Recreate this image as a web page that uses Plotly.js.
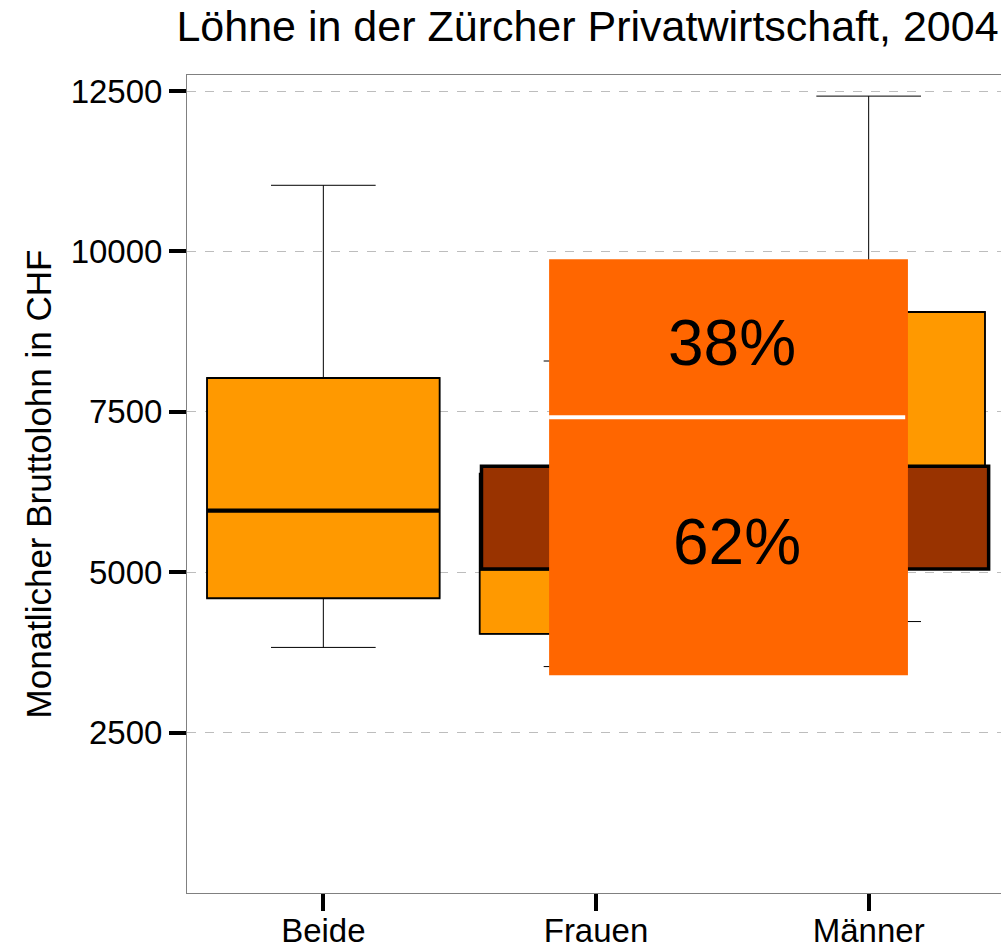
<!DOCTYPE html>
<html>
<head>
<meta charset="utf-8">
<script src="https://cdn.plot.ly/plotly-3.0.1.min.js"></script>
<style>
  html, body { margin: 0; padding: 0; overflow: hidden; background: #ffffff; }
  #chart { width: 1005px; height: 950px; }
</style>
</head>
<body>
<div id="chart"></div>
<script>
// ---- data ----
const categories   = ['Beide', 'Frauen', 'Männer'];
const q1           = [4594, 4039, 5300];
const medians      = [5959, 5062, 6500];
const q3           = [8027, 6535, 9056];
const lowerWhisker = [3828, 3529, 4231];
const upperWhisker = [11031, 8292, 12421];
const yTickVals    = [2500, 5000, 7500, 10000, 12500];

// highlighted brown band (category-index units, CHF)
const highlightX = [0.58, 2.44];
const highlightY = [5050, 6650];

// overlay panel with shares (category-index units, CHF)
const overlayX = [0.828, 2.144];
const overlayY = [3393, 9878];
const shareLabels = ['62%', '38%'];   // lower part, upper part
const shares      = [62, 38];

// ---- styling ----
const FONT = 'Liberation Sans, Arial, Helvetica, sans-serif';
const BOX_W = 0.853;

const whiskerTrace = {
  type: 'box',
  x: categories, q1: q1, median: medians, q3: q3,
  lowerfence: lowerWhisker, upperfence: upperWhisker,
  width: BOX_W, whiskerwidth: 0.45,
  fillcolor: '#FF9900',
  line: { color: '#000000', width: 1 },
  boxpoints: false, hoverinfo: 'skip', showlegend: false
};
const boxTrace = {
  type: 'box',
  x: categories, q1: q1, median: medians, q3: q3,
  lowerfence: q1, upperfence: q3,
  width: BOX_W, whiskerwidth: 0,
  fillcolor: '#FF9900',
  line: { color: '#000000', width: 1.8 },
  boxpoints: false, hoverinfo: 'skip', showlegend: false
};

const shapes = [];
// thick median lines
medians.forEach((m, i) => {
  shapes.push({
    type: 'line', xref: 'x', yref: 'y', layer: 'above',
    x0: i - BOX_W / 2, x1: i + BOX_W / 2, y0: m, y1: m,
    line: { color: '#000000', width: 4.3 }
  });
});
// brown highlight band
shapes.push({
  type: 'rect', xref: 'x', yref: 'y', layer: 'above',
  x0: highlightX[0], x1: highlightX[1], y0: highlightY[0], y1: highlightY[1],
  fillcolor: '#993300', line: { color: '#000000', width: 3.5 }
});
// overlay panel
shapes.push({
  type: 'rect', xref: 'x', yref: 'y', layer: 'above',
  x0: overlayX[0], x1: overlayX[1], y0: overlayY[0], y1: overlayY[1],
  fillcolor: '#FF6600', line: { width: 0 }
});
const total = overlayY[1] - overlayY[0];
const split = overlayY[0] + total * shares[0] / 100;
shapes.push({
  type: 'line', xref: 'x', yref: 'y', layer: 'above',
  x0: overlayX[0], x1: overlayX[1] - 0.01, y0: split, y1: split,
  line: { color: '#ffffff', width: 4 }
});

const xMid = (overlayX[0] + overlayX[1]) / 2;
const annotations = [
  { x: xMid, y: (overlayY[0] + split) / 2, xref: 'x', yref: 'y', text: shareLabels[0],
    xshift: 8, yshift: 4,
    showarrow: false, font: { family: FONT, size: 64, color: '#000000' } },
  { x: xMid, y: (split + overlayY[1]) / 2, xref: 'x', yref: 'y', text: shareLabels[1],
    xshift: 3, yshift: -5,
    showarrow: false, font: { family: FONT, size: 64, color: '#000000' } }
];

const layout = {
  width: 1005, height: 950,
  margin: { l: 187, r: 0, t: 75, b: 57, pad: 0 },
  paper_bgcolor: '#ffffff', plot_bgcolor: '#ffffff',
  font: { family: FONT, color: '#000000' },
  boxmode: 'overlay',
  showlegend: false,
  title: {
    text: 'Löhne in der Zürcher Privatwirtschaft, 2004',
    font: { family: FONT, size: 43, color: '#000000' },
    xref: 'container', x: 0.5846, xanchor: 'center',
    yref: 'container', y: 0.9725, yanchor: 'middle'
  },
  xaxis: {
    type: 'category', categoryarray: categories,
    range: [-0.5, 2.5],
    showgrid: false, zeroline: false,
    showline: true, mirror: true, linecolor: '#808080', linewidth: 1,
    ticks: 'outside', ticklen: 17, tickwidth: 4, tickcolor: '#000000',
    ticklabelstandoff: -9,
    tickfont: { family: FONT, size: 33, color: '#000000' },
    fixedrange: true
  },
  yaxis: {
    range: [0, 12750],
    tickvals: yTickVals, ticktext: yTickVals.map(String),
    showgrid: true, gridcolor: '#bdbdbd', gridwidth: 1, griddash: 'dash',
    zeroline: false,
    showline: true, mirror: true, linecolor: '#808080', linewidth: 1,
    ticks: 'outside', ticklen: 17, tickwidth: 4, tickcolor: '#000000',
    tickfont: { family: FONT, size: 33, color: '#000000' },
    title: { text: 'Monatlicher Bruttolohn in CHF', font: { family: FONT, size: 35, color: '#000000' }, standoff: 8 },
    automargin: false,
    fixedrange: true
  },
  shapes: shapes,
  annotations: annotations
};

Plotly.newPlot('chart', [whiskerTrace, boxTrace], layout, { displayModeBar: false, staticPlot: true });
</script>
</body>
</html>
